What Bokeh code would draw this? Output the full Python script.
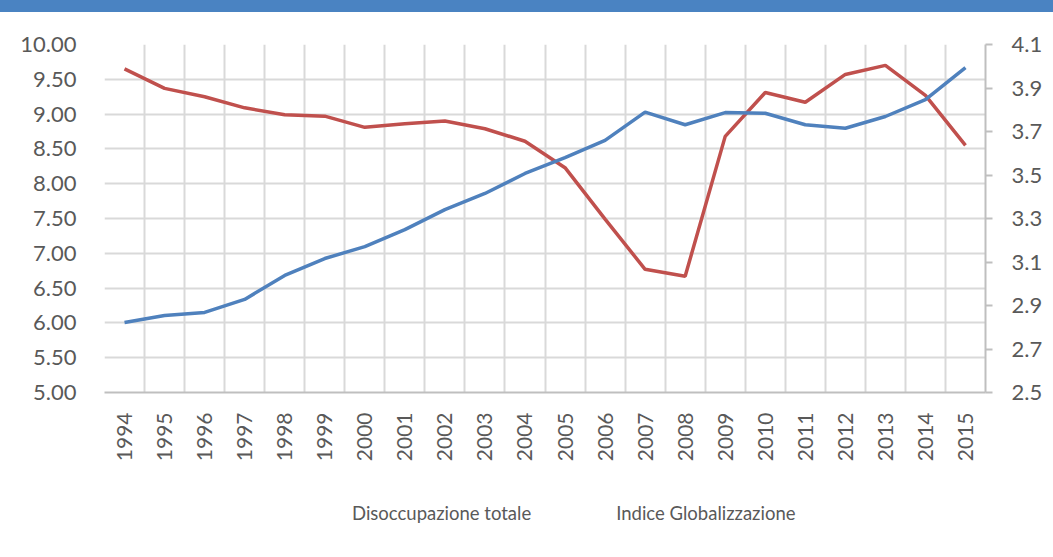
from bokeh.plotting import figure
from bokeh.models import (Range1d, LinearAxis, FixedTicker, Legend, LegendItem,
                          NumeralTickFormatter)
from bokeh.layouts import column
from bokeh.embed import file_html
from bokeh.resources import INLINE

years = list(range(1994, 2016))
disoccupazione = [9.65, 9.37, 9.25, 9.09, 8.99, 8.97, 8.81, 8.86, 8.90, 8.79, 8.61,
                  8.23, 7.49, 6.77, 6.67, 8.68, 9.31, 9.17, 9.57, 9.70, 9.27, 8.55]
globalizzazione = [2.822, 2.854, 2.868, 2.928, 3.038, 3.116, 3.171, 3.249, 3.341, 3.415, 3.507,
                   3.580, 3.659, 3.789, 3.731, 3.787, 3.784, 3.731, 3.715, 3.769, 3.847, 3.994]
left_ticks = [5.0, 5.5, 6.0, 6.5, 7.0, 7.5, 8.0, 8.5, 9.0, 9.5, 10.0]
right_ticks = [2.5, 2.7, 2.9, 3.1, 3.3, 3.5, 3.7, 3.9, 4.1]
series_names = ["Disoccupazione totale", "Indice Globalizzazione"]

FONT = "Lato"
TXT = "#595959"
GRID = "#d9d9d9"
AX = "#bfbfbf"
RED = "#c0504d"
BLUE = "#4f81bd"

p = figure(width=1045, height=470, output_backend="svg", toolbar_location=None,
           x_range=Range1d(years[0] - 0.5, years[-1] + 0.5),
           y_range=Range1d(left_ticks[0], left_ticks[-1]),
           min_border_left=104, min_border_right=60, min_border_top=44, min_border_bottom=78)
p.outline_line_color = None
p.background_fill_color = "white"
p.border_fill_color = "white"
p.extra_y_ranges = {"g": Range1d(right_ticks[0], right_ticks[-1])}

# grids
p.xgrid.ticker = FixedTicker(ticks=[y - 0.5 for y in years] + [years[-1] + 0.5])
p.xgrid.grid_line_color = GRID
p.xgrid.grid_line_width = 2
p.ygrid.ticker = FixedTicker(ticks=left_ticks)
p.ygrid.grid_line_color = GRID
p.ygrid.grid_line_width = 2

# x axis
xa = p.xaxis[0]
xa.ticker = FixedTicker(ticks=years)
xa.major_label_orientation = 3.14159265 / 2
xa.major_label_text_font = FONT
xa.major_label_text_font_size = "21px"
xa.major_label_text_color = TXT
xa.major_label_standoff = 20
xa.major_tick_in = 0
xa.major_tick_out = 0
xa.major_tick_line_color = None
xa.minor_tick_line_color = None
xa.axis_line_color = AX
xa.axis_line_width = 2

# left axis
ya = p.yaxis[0]
ya.ticker = FixedTicker(ticks=left_ticks)
ya.formatter = NumeralTickFormatter(format="0.00")
ya.major_label_text_font = FONT
ya.major_label_text_font_size = "22px"
ya.major_label_text_color = TXT
ya.major_label_standoff = 28
ya.major_tick_in = 0
ya.major_tick_out = 0
ya.major_tick_line_color = None
ya.minor_tick_line_color = None
ya.axis_line_color = None

# right axis
ra = LinearAxis(y_range_name="g", ticker=FixedTicker(ticks=right_ticks),
                formatter=NumeralTickFormatter(format="0.0"))
ra.major_label_text_font = FONT
ra.major_label_text_font_size = "22px"
ra.major_label_text_color = TXT
ra.major_label_standoff = 19
ra.major_tick_in = 0
ra.major_tick_out = 7
ra.major_tick_line_color = AX
ra.major_tick_line_width = 2
ra.minor_tick_line_color = None
ra.axis_line_color = AX
ra.axis_line_width = 2
p.add_layout(ra, "right")

p.line(years, disoccupazione, line_color=RED, line_width=3.5)
p.line(years, globalizzazione, line_color=BLUE, line_width=3.5, y_range_name="g")

# legend strip below the chart
lg = figure(width=1045, height=70, output_backend="svg", toolbar_location=None,
            x_range=Range1d(0, 1), y_range=Range1d(0, 1),
            x_axis_type=None, y_axis_type=None,
            min_border_left=0, min_border_right=0, min_border_top=0, min_border_bottom=0)
lg.outline_line_color = None
lg.xgrid.visible = False
lg.ygrid.visible = False
k1 = lg.line([], [], line_color=RED, line_width=3.5)
k2 = lg.line([], [], line_color=BLUE, line_width=3.5)

legend = Legend(items=[LegendItem(label=series_names[0], renderers=[k1]),
                       LegendItem(label=series_names[1], renderers=[k2])],
                location=(201, 16), orientation="horizontal",
                label_text_font=FONT, label_text_font_size="18.5px", label_text_color=TXT,
                glyph_width=44, glyph_height=20, label_standoff=3, spacing=38,
                padding=0, margin=0, border_line_color=None, background_fill_alpha=0)
lg.add_layout(legend, "center")

layout = column(p, lg, spacing=0)

page_style = """{% block postamble %}<style>
body::before { content: ""; position: fixed; top: 0; left: 0; right: 0; height: 12px;
               background: #4a83c2; z-index: 10; }
</style>{% endblock %}"""

open("out.html", "w").write(file_html(layout, INLINE, template=page_style))
